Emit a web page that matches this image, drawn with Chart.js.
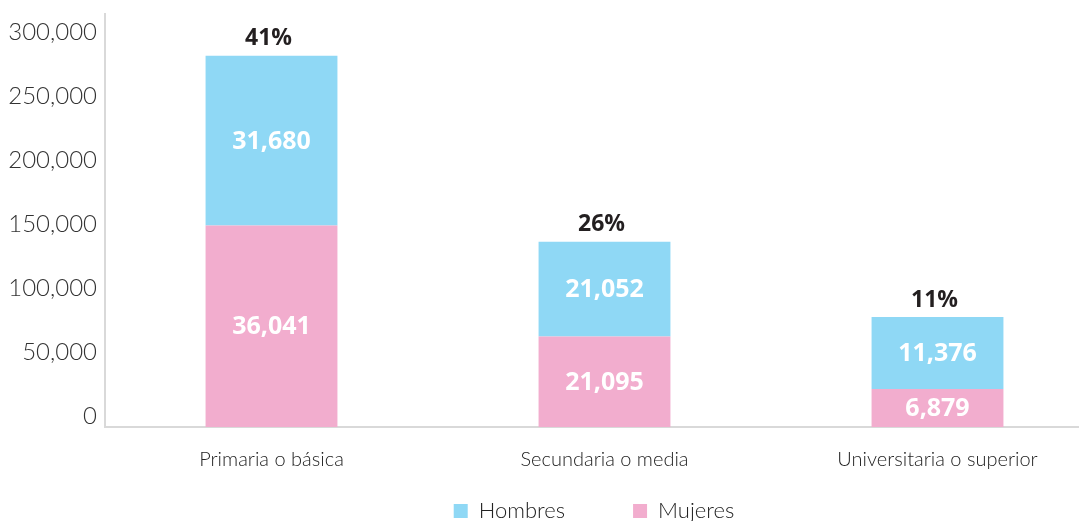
<!DOCTYPE html>
<html>
<head>
<meta charset="utf-8">
<script src="https://cdn.jsdelivr.net/npm/chart.js@4.4.1/dist/chart.umd.min.js"></script>
<style>
    html, body { margin: 0; padding: 0; background: #fff; overflow: hidden; }
    .chart-box { width: 1104px; height: 593px; position: relative; }
</style>
</head>
<body>
<div class="chart-box"><canvas id="education-chart"></canvas></div>
<script>
const educationLevels = ['Primaria o básica', 'Secundaria o media', 'Universitaria o superior'];
const mujeresValues = [157500, 70700, 29700];
const hombresValues = [132800, 74100, 56300];
const mujeresLabels = ['36,041', '21,095', '6,879'];
const hombresLabels = ['31,680', '21,052', '11,376'];
const percentLabels = ['41%', '26%', '11%'];
const yTickValues = [0, 50000, 100000, 150000, 200000, 250000, 300000];

const lightFont = '"Lato", "Open Sans", sans-serif';

const barLabels = {
    id: 'barLabels',
    afterDatasetsDraw(chart) {
        const {ctx} = chart;
        ctx.save();
        ctx.textAlign = 'center';
        ctx.textBaseline = 'middle';
        ctx.font = '700 25px "Open Sans"';
        ctx.fillStyle = '#ffffff';
        chart.data.datasets.forEach((dataset, datasetIndex) => {
            chart.getDatasetMeta(datasetIndex).data.forEach((bar, index) => {
                ctx.fillText(dataset.segmentLabels[index], bar.x, (bar.y + bar.base) / 2 + 1);
            })
        })
        ctx.font = '700 23px "Open Sans"';
        ctx.fillStyle = '#231f20';
        chart.getDatasetMeta(1).data.forEach((bar, index) => {
            ctx.fillText(percentLabels[index], bar.x - 3, bar.y - 17);
        })
        ctx.restore();
    }
}

// the original legend has wide gaps and sits right of centre, close under the axis labels
const legendShift = {
    id: 'legendShift',
    afterLayout(chart) {
        chart.legend.left += 42;
        chart.legend.right += 42;
        chart.legend.top -= 61;
    }
}

const educationChart = new Chart(document.getElementById('education-chart'), {
    type: 'bar',
    data: {
        labels: educationLevels,
        datasets: [{
            label: 'Mujeres',
            data: mujeresValues,
            segmentLabels: mujeresLabels,
            backgroundColor: '#f2adce',
            barPercentage: 0.396,
            categoryPercentage: 1
        }, {
            label: 'Hombres',
            data: hombresValues,
            segmentLabels: hombresLabels,
            backgroundColor: '#8fd8f5',
            barPercentage: 0.396,
            categoryPercentage: 1
        }]
    },
    options: {
        responsive: true,
        maintainAspectRatio: false,
        animation: false,
        layout: {
            padding: {top: 14, left: 0, right: 0, bottom: 0}
        },
        plugins: {
            legend: {
                position: 'bottom',
                labels: {
                    sort: (a, b) => b.datasetIndex - a.datasetIndex,
                    boxWidth: 14,
                    boxHeight: 14,
                    padding: 68,
                    color: '#222222',
                    font: {family: lightFont, size: 22, weight: '300'}
                }
            },
            tooltip: {enabled: false}
        },
        scales: {
            x: {
                stacked: true,
                grid: {display: false, drawTicks: false},
                border: {display: true, color: '#d9d9d9', width: 2},
                ticks: {
                    padding: 21,
                    color: '#222222',
                    font: {family: lightFont, size: 20, weight: '300'}
                }
            },
            y: {
                stacked: true,
                min: 0,
                max: 323000,
                grid: {display: false, drawTicks: false},
                border: {display: true, color: '#d9d9d9', width: 2},
                afterBuildTicks: (scale) => {
                    scale.ticks = yTickValues.map(v => ({value: v}))
                },
                afterFit: (scale) => {
                    scale.width = 105
                },
                ticks: {
                    padding: 8,
                    labelOffset: -11,
                    color: '#333333',
                    font: {family: lightFont, size: 24, weight: '300', lineHeight: 0.5},
                    callback: (value) => value.toLocaleString('en-US')
                }
            }
        }
    },
    plugins: [barLabels, legendShift]
});
</script>
</body>
</html>
